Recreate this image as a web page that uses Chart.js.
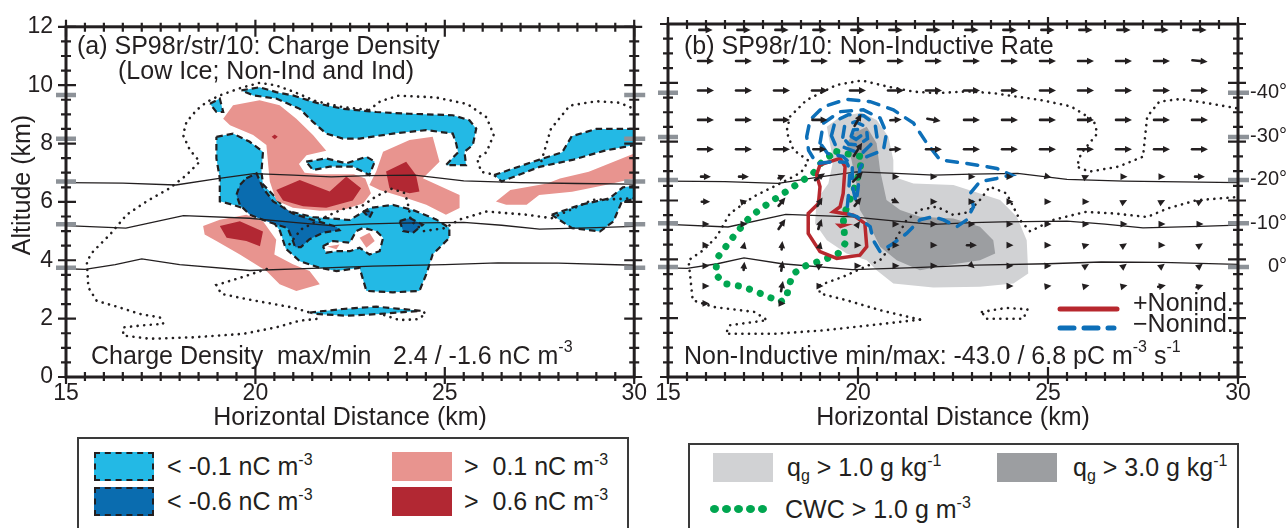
<!DOCTYPE html>
<html>
<head>
<meta charset="utf-8">
<title>SP98 charge density and non-inductive rate</title>
<script src="https://cdn.jsdelivr.net/npm/chart.js@4.4.1/dist/chart.umd.min.js"></script>
<style>
  html, body { margin: 0; padding: 0; background: #fff; }
  body { width: 1288px; height: 528px; position: relative; overflow: hidden;
         font-family: 'Liberation Sans', Arial, Helvetica, sans-serif; color: #231f20; }
  canvas { position: absolute; top: 0; }
  #chartA { left: 0; }
  #chartB { left: 644px; }
  .key { position: absolute; border: 2px solid #3a3a3a; height: 140px; box-sizing: border-box; }
  .sw { position: absolute; box-sizing: border-box; width: 60px; height: 29px; }
  .dash { border: 2px dashed #231f20; }
  .lbl { position: absolute; font-size: 25px; line-height: 30px; white-space: nowrap; }
  .lbl sup { font-size: 16px; vertical-align: 0; position: relative; top: -10px; }
  .lbl sub { font-size: 16px; vertical-align: 0; position: relative; top: 5px; }
  .dots { position: absolute; display: flex; gap: 3px; }
  .dots span { width: 9px; height: 8px; border-radius: 50%; background: #00a650; }
</style>
</head>
<body>
<canvas id="chartA" width="650" height="430"></canvas>
<canvas id="chartB" width="644" height="430"></canvas>

<div class="key" style="left:77px;top:437px;width:552px"></div>
<div class="sw dash" style="left:94px;top:452px;background:#23b9e5"></div>
<div class="lbl" style="left:167px;top:451px">&lt; -0.1 nC m<sup>-3</sup></div>
<div class="sw dash" style="left:94px;top:487px;background:#0a6caf"></div>
<div class="lbl" style="left:167px;top:486px">&lt; -0.6 nC m<sup>-3</sup></div>
<div class="sw" style="left:392px;top:452px;background:#e8948f"></div>
<div class="lbl" style="left:464px;top:451px">&gt;&nbsp; 0.1 nC m<sup>-3</sup></div>
<div class="sw" style="left:392px;top:487px;background:#b22833"></div>
<div class="lbl" style="left:464px;top:486px">&gt;&nbsp; 0.6 nC m<sup>-3</sup></div>

<div class="key" style="left:688px;top:443px;width:551px"></div>
<div class="sw" style="left:713px;top:453px;background:#d1d2d4"></div>
<div class="lbl" style="left:787px;top:452px">q<sub>g</sub> &gt; 1.0 g kg<sup>-1</sup></div>
<div class="sw" style="left:997px;top:453px;background:#9c9ea1"></div>
<div class="lbl" style="left:1073px;top:452px">q<sub>g</sub> &gt; 3.0 g kg<sup>-1</sup></div>
<div class="dots" style="left:710px;top:505px"><span></span><span></span><span></span><span></span><span></span></div>
<div class="lbl" style="left:785px;top:494px">CWC &gt; 1.0 g m<sup>-3</sup></div>

<script>
const ink = '#231f20';
const fontFam = "'Liberation Sans', Arial, Helvetica, sans-serif";

// isotherms (km), same in both panels
const iso20 = [[15,6.66],[16.5,6.64],[17.9,6.58],[19.0,6.8],[19.96,6.97],[21,6.92],[22.0,6.86],[23,6.9],[24.2,6.92],[25.5,6.72],[27,6.66],[28.5,6.63],[30,6.61]];
const iso10 = [[15,5.19],[16.58,5.1],[18.1,5.53],[19.85,5.44],[21,5.3],[22.0,5.19],[23,5.25],[23.8,5.27],[25.5,5.3],[26.5,5.2],[27.5,5.07],[29,5.12],[30,5.16]];
const iso0 = [[15,3.71],[15.5,3.69],[16.3,3.85],[17.0,4.05],[18.0,3.85],[19.85,3.65],[21.5,3.72],[23.1,3.8],[25,3.85],[26.4,3.91],[28,3.9],[30,3.83]];
const tempLevels = [9.66, 8.16, 6.70, 5.23, 3.74];
const tempLabels = ['-40°', '-30°', '-20°', '-10°', '0°'];

// (a) charge density, nC m-3
const negWeak = [
  [[19.63,9.82],[20.11,9.93],[20.55,9.76],[20.99,9.65],[21.7,9.36],[22.31,9.19],[23.19,9.08],[24.07,9.02],[25.21,8.97],[25.65,8.8],[25.83,8.51],[25.74,7.95],[25.52,7.72],[25.56,7.26],[25.03,7.26],[25.35,7.7],[25.3,8.0],[25.21,8.34],[24.51,8.46],[23.63,8.34],[22.75,8.17],[22.31,8.17],[21.87,8.34],[21.52,8.74],[21.17,9.19],[20.55,9.54],[19.94,9.65]],
  [[18.8,9.36],[19.06,9.54],[19.15,9.08],[18.97,9.08]],
  [[18.97,8.23],[19.41,8.34],[19.85,8.06],[20.2,7.72],[20.16,7.04],[20.2,6.6],[20.47,6.24],[20.82,5.7],[21.52,5.48],[22.49,5.38],[23.01,5.79],[23.63,5.9],[24.16,5.72],[24.77,5.4],[25.12,5.11],[25.12,4.77],[24.68,4.2],[24.51,3.52],[24.33,2.95],[23.63,2.9],[22.93,2.95],[22.75,3.74],[22.14,3.63],[21.7,3.74],[21.17,3.97],[20.8,4.4],[20.65,5.0],[20.4,5.45],[19.94,5.68],[19.41,5.9],[19.06,6.02],[19.06,6.81],[18.97,7.49]],
  [[21.34,7.38],[21.87,7.49],[22.4,7.32],[22.93,7.55],[23.15,7.38],[23.01,6.92],[22.57,7.21],[21.96,7.21],[21.52,7.09]],
  [[26.3,6.92],[27.5,7.45],[28.1,7.7],[28.35,8.25],[29.0,8.5],[30,8.5],[30,7.95],[29.2,7.75],[28.4,7.45],[27.5,7.2],[26.5,6.7]],
  [[27.82,5.56],[28.58,5.9],[29.35,6.12],[29.7,6.5],[30,6.55],[30,6.1],[29.67,6.0],[29.45,5.33],[29.1,4.99],[28.36,5.1]],
  [[21.43,2.21],[22.31,2.33],[23.19,2.41],[24.37,2.27],[23.28,2.16],[22.4,2.1],[21.61,2.16]]
];
const negHole = [
  [[21.78,4.48],[22.05,4.66],[22.49,4.6],[22.66,5.0],[22.84,5.11],[23.19,5.0],[23.37,4.77],[23.28,4.31],[23.01,4.2],[22.75,4.43],[22.49,4.31],[22.14,4.31],[21.87,4.26]]
];
const negStrong = [
  [[19.76,6.81],[20.03,6.98],[20.2,6.47],[20.47,6.02],[20.99,5.6],[21.52,5.38],[22.14,5.15],[22.22,5.03],[21.8,4.95],[21.43,4.72],[21.2,4.45],[21.05,4.45],[20.98,4.7],[20.85,5.1],[20.29,5.34],[19.85,5.56],[19.59,5.9],[19.5,6.24],[19.59,6.58]],
  [[23.81,5.34],[24.07,5.45],[24.42,5.22],[24.16,4.94],[23.9,5.0]],
  [[22.84,5.68],[23.1,5.68],[23.01,5.45]]
];
const posWeak = [
  [[19.15,8.85],[19.41,9.31],[20.11,9.48],[20.64,9.31],[21.08,8.85],[21.52,8.29],[21.87,7.75],[21.35,7.6],[21.15,7.3],[21.3,7.0],[21.7,6.95],[22.31,6.95],[22.6,6.95],[22.9,6.8],[23.05,6.3],[22.85,5.95],[22.31,5.72],[21.7,5.7],[20.99,5.8],[20.55,6.05],[20.38,6.7],[20.33,7.38],[20.29,7.95],[19.94,8.29],[19.33,8.63]],
  [[23.37,7.72],[24.07,8.12],[24.68,8.23],[24.86,7.38],[24.42,6.81],[25.39,6.24],[25.39,5.79],[25.03,5.56],[24.51,5.9],[23.98,6.13],[23.28,6.41],[23.01,6.58],[23.19,7.04]],
  [[18.62,5.17],[19.06,5.39],[19.76,5.56],[20.2,5.34],[20.55,4.7],[20.5,4.2],[20.99,3.86],[21.43,3.63],[21.7,3.18],[21.08,2.95],[20.64,3.18],[20.29,3.63],[19.59,4.2],[18.97,4.66],[18.66,4.88]],
  [[26.35,6.01],[26.73,6.41],[27.7,6.63],[28.04,6.8],[28.8,7.03],[30,7.66],[30,6.8],[29.24,6.58],[28.36,6.35],[27.49,6.24],[27.16,5.9],[26.62,5.9]],
  [[22.75,4.77],[23.01,4.94],[23.15,4.66],[22.93,4.43]],
  [[21.9,4.47],[22.22,4.54],[22.14,4.38]]
];
const posStrong = [
  [[20.55,6.41],[21.17,6.75],[21.96,6.36],[22.4,6.87],[22.79,6.47],[22.57,6.05],[21.87,5.8],[21.26,5.85],[20.73,6.05]],
  [[23.45,7.04],[23.98,7.38],[24.24,6.92],[24.33,6.36],[24.07,6.3],[23.54,6.47]],
  [[19.06,5.17],[19.59,5.34],[20.2,4.99],[20.12,4.48],[19.76,4.66],[19.24,4.77]],
  [[20.43,8.23],[20.51,8.31],[20.59,8.23],[20.51,8.15]]
];
const cloudA = [
  [[21.61,1.99],[21.17,1.93],[20.55,1.7],[19.68,1.48],[18.36,1.36],[17.22,1.31],[16.51,1.42],[16.51,1.7],[17.1,1.78],[17.57,1.82],[17.48,2.04],[16.95,2.16],[16.42,2.38],[15.81,2.61],[15.59,3.07],[15.55,3.97],[15.72,4.31],[16.16,4.88],[16.6,5.56],[17.13,6.02],[17.74,6.47],[18.18,6.92],[18.53,7.38],[18.27,7.78],[18.09,8.29],[18.18,8.74],[18.45,9.15],[18.71,9.42],[19.06,9.65],[19.6,9.9],[20.11,10.08],[20.55,9.99],[21.0,9.78],[21.6,9.45],[22.3,9.25],[23.0,9.15]],
  [[23.0,9.15],[23.3,9.45],[23.78,9.64],[24.76,9.58],[25.6,9.35],[26.1,8.9],[26.29,8.3],[26.1,7.7],[25.85,7.49],[25.96,7.03],[26.35,6.92]],
  [[27.55,7.4],[27.8,8.5],[28.3,9.3],[29.0,9.45],[29.6,9.4],[30,9.19]],
  [[20.9,4.55],[21.2,5.05],[21.7,5.4],[22.3,5.75],[22.8,5.85],[23.2,6.2],[23.6,6.45],[23.95,6.3],[24.05,5.8],[24.1,5.35],[24.45,5.0],[25.0,5.1],[25.4,5.4],[26.1,5.67],[27.16,5.56],[27.82,5.44],[28.9,6.07],[30,6.12]],
  [[20.3,3.7],[19.6,3.4],[18.97,3.15],[19.1,2.85],[19.76,2.67],[20.99,2.38],[21.43,2.21]],
  [[23.4,2.12],[23.8,1.95],[24.3,1.98],[24.5,2.18],[24.37,2.27]]
];

// (b) non-inductive rate, graupel, cloud water
const graupelWeak = [[20.1,8.99],[20.49,8.74],[20.8,8.17],[20.93,7.38],[20.93,6.81],[21.46,6.58],[22.51,6.53],[23.21,6.24],[23.74,6.02],[24.18,5.45],[24.44,4.65],[24.48,3.52],[24.09,3.18],[23.21,3.07],[21.98,3.04],[20.93,3.18],[20.49,3.63],[20.23,3.97],[19.7,4.2],[19.18,4.65],[18.87,5.22],[18.91,6.02],[19.22,6.58],[19.35,7.38],[19.26,7.95],[19.18,8.51],[19.53,8.85]];
const graupelStrong = [[19.88,8.29],[20.23,8.51],[20.49,7.95],[20.58,7.04],[20.75,6.02],[21.11,5.68],[21.63,5.45],[22.51,5.39],[23.21,5.11],[23.56,4.65],[23.61,4.2],[23.21,3.97],[22.33,3.8],[21.63,3.63],[21.02,3.97],[20.58,4.43],[20.32,5.11],[20.05,5.68],[19.97,6.47],[19.83,7.38],[19.7,7.95]];
const cloudWater = [[19.44,7.66],[20.1,7.49],[20.05,7.04],[19.92,6.47],[19.75,5.9],[19.61,5.45],[19.66,4.54],[19.48,4.2],[19.09,3.97],[18.65,3.8],[18.3,3.52],[18.17,3.07],[18.12,2.67],[17.95,2.55],[17.55,2.78],[16.98,3.07],[16.46,3.18],[16.24,3.52],[16.32,4.09],[16.72,4.77],[17.16,5.45],[17.64,5.9],[18.3,6.47],[18.82,6.92],[19.09,7.38]];
const nonindPos = [[19.0,7.21],[19.53,7.43],[19.66,7.15],[19.61,6.24],[19.53,5.79],[19.35,5.62],[19.88,5.5],[20.18,5.22],[20.23,4.43],[20.05,4.14],[19.44,4.03],[19.0,4.26],[18.69,4.88],[18.69,5.56],[18.96,5.9],[19.0,6.47],[18.91,6.87]];
const nonindPosCore = [[19.39,5.22],[19.88,5.2],[19.53,5.05]];
const nonindNeg = [
  [[18.65,8.17],[18.74,8.74],[19.09,9.19],[19.7,9.44],[20.32,9.36],[20.93,9.08],[21.46,8.63],[21.81,7.95],[22.16,7.38],[22.86,7.26],[23.65,7.09],[24.04,6.87],[23.65,6.75],[23.21,6.64],[22.95,6.24],[23.04,5.79],[22.86,5.34],[22.6,5.11],[22.25,5.34],[21.98,5.45],[21.63,5.34],[21.28,4.88],[20.93,4.54],[20.58,4.26],[20.4,4.65],[20.32,5.11],[19.97,5.45],[19.7,5.56],[19.75,6.2],[19.79,7.04],[19.7,7.3],[19.35,7.32],[18.91,7.26],[18.7,7.7]],
  [[19.0,7.95],[19.09,8.63],[19.53,9.02],[20.14,9.08],[20.58,8.8],[20.75,8.29],[20.67,7.72],[20.23,7.49],[20.05,7.1],[20.0,6.4],[19.95,5.95],[19.85,6.5],[19.85,7.2],[19.6,7.5],[19.2,7.6]],
  [[19.3,8.2],[19.4,8.7],[19.75,8.92],[20.15,8.88],[20.45,8.6],[20.5,8.15],[20.3,7.85],[20.1,7.6],[19.95,7.65],[19.65,7.8],[19.4,7.9]],
  [[19.6,8.15],[19.65,8.55],[19.93,8.68],[20.22,8.5],[20.25,8.1],[20.0,7.88],[19.75,7.92]],
  [[19.82,8.18],[19.88,8.4],[20.04,8.42],[20.1,8.22],[19.95,8.08]]
];
const cloudB = [
  [[21.63,1.95],[20.33,1.76],[19.13,1.59],[17.83,1.47],[16.52,1.47],[16.63,1.76],[17.61,1.93],[17.28,2.21],[16.2,2.38],[15.65,2.61],[15.54,3.97],[15.93,4.31],[16.28,4.77],[16.63,5.56],[17.25,6.13],[17.95,6.58],[18.5,6.95],[18.7,7.35],[18.3,7.72],[18.12,8.34],[18.21,8.85],[18.65,9.42],[19.44,9.93],[20.1,10.08],[20.75,9.88],[21.46,9.7],[22.07,9.65],[22.86,9.71],[23.56,9.65],[24.18,9.53],[24.79,9.42],[25.6,9.2],[26.2,8.73],[26.3,8.28],[25.87,7.6],[25.76,7.15],[26.09,6.98],[26.85,7.15],[27.5,7.49],[27.61,8.85],[27.93,9.36],[28.48,9.45],[29.24,9.3],[30,9.13]],
  [[21.63,1.95],[20.58,2.27],[19.7,2.61],[18.99,2.84],[18.99,3.12],[19.61,3.41],[20.58,3.97],[20.93,4.54],[21.28,5.34],[21.63,5.68],[22.07,5.79],[22.51,5.51],[22.9,5.6],[23.21,6.02],[23.47,6.47],[23.91,6.24],[24.26,5.34],[24.53,4.95],[25.11,5.33],[25.98,5.61],[26.74,5.56],[27.61,5.44],[28.15,5.73],[28.91,6.01],[30,6.12]],
  [[23.26,2.21],[23.9,2.35],[24.46,2.3],[24.35,1.98],[23.37,1.98],[23.26,2.21]]
];

// wind vectors drawn in km of plot length (u right, w up)
const windX = [16,17,18,19,20,21,22,23,24,25,26,27,28,29];
const windY = [11.8,10.74,9.74,8.74,7.74,6.81,5.96,5.2,4.48,3.78,3.09,2.5];
const windU = [
  [0.35,0.35,0.35,0.35,0.35,0.35,0.35,0.35,0.35,0.35,0.35,0.35,0.35,0.35],
  [0.42,0.42,0.42,0.42,0.42,0.42,0.42,0.42,0.42,0.42,0.42,0.42,0.42,0.4],
  [0.42,0.42,0.42,0.42,0.42,0.42,0.42,0.42,0.42,0.42,0.42,0.42,0.42,0.42],
  [0.42,0.42,0.42,0.4,0.18,0.3,0.35,0.42,0.42,0.42,0.42,0.42,0.42,0.42],
  [0.42,0.42,0.42,0.35,0.22,0.3,0.42,0.42,0.42,0.42,0.42,0.42,0.42,0.42],
  [0.26,0.26,0.18,0.26,0.26,0.06,0.06,0.06,0.08,0.1,0.1,0.1,0.06,0.26],
  [0.22,0.15,0.18,0.13,0.18,0.18,0.05,0.05,0.05,0.05,0.05,0.12,0.12,0.12],
  [0.05,0.05,0.18,0.09,0.09,0.05,0.06,0.05,0.05,0.05,0.05,0.06,0.06,0.06],
  [0.05,0.04,0.02,0.04,0.05,0.05,0.05,0.26,0.18,0.05,0.08,0.12,0.06,0.12],
  [0.05,0.02,0.04,0.08,0.05,0.05,0.05,0.13,0.1,0.1,0.12,0.12,0.12,0.12],
  [0.05,0,0.05,0.08,0,0,0,0,0.05,0.18,0.18,0.18,0.2,0.18],
  [0.05,0,0.05,0,0,0,0,0,0,0,0,0,0,0]
];
const windW = [
  [0,0,0,0,0,0,0,0,0,0,0,0,0,0],
  [0,0,0,0,0,0,0,0,0,0,0,0,0,-0.05],
  [0,0,0,0,0,0,0,0,0,0,0,0,0,0],
  [0,0,0,0,0.4,0.02,-0.08,0,0,0,0,0,0,0],
  [0,0,0,0,0.45,0.02,0,0,0,0,0,0,0,0],
  [0,0,0.1,0.23,0.34,0,0,0,0,-0.03,0.06,0,0,0],
  [0,0.05,0.28,0.28,0.28,-0.11,0,0,0,0,0,0.08,0.08,0.08],
  [0,0,0.34,0.34,0.17,0,0,0,0,0,0,0,0,0],
  [0,0.23,0.28,0.23,0,0,0,0,0,0,0.03,0.1,0,0.1],
  [0,0.28,0.34,0.06,0,0,0,-0.15,0,0,0.1,0.12,0.12,0.12],
  [0,0,0.35,0,0,0,0,0,0,0.03,0.05,0.05,0.05,0.08],
  [0,0,0,0,0,0,0,0,0,0,0,0,0,0]
];

Chart.defaults.font.family = fontFam;
Chart.defaults.color = ink;

const pts = arr => arr.map(p => ({x: p[0], y: p[1]}));
const ring = arr => pts(arr.concat([arr[0]]));

function region(poly, color, edged, order) {
  return {
    data: ring(poly), showLine: true, fill: 'shape', backgroundColor: color,
    borderColor: edged ? ink : 'rgba(0,0,0,0)', borderWidth: edged ? 2.2 : 1,
    borderDash: edged ? [6.5, 4] : [], pointRadius: 0, order
  };
}
function trace(data, o, order) {
  return {
    data, showLine: true, fill: false, borderColor: o.color, borderWidth: o.width,
    borderDash: o.dash || [], borderCapStyle: o.cap || 'butt', pointRadius: 0, order
  };
}
const dotted = {color: ink, width: 2.6, dash: [0.1, 6.5], cap: 'round'};
const isoStyle = {color: ink, width: 1.3};

function supText(ctx, parts, x, y) {
  parts.forEach(([t, k]) => {
    ctx.font = (k ? '16px ' : '25px ') + fontFam;
    ctx.fillText(t, x, y + (k === 1 ? -9 : k === -1 ? 6 : 0));
    x += ctx.measureText(t).width;
  });
}

// frame with crossing ticks plus the grey isotherm marks on both sides
const axisFrame = {
  id: 'axisFrame',
  afterDraw(chart) {
    const {ctx, chartArea: a} = chart;
    const xs = chart.scales.x, ys = chart.scales.y;
    ctx.save();
    ctx.strokeStyle = '#8d9298';
    ctx.lineWidth = 4.5;
    tempLevels.forEach(v => {
      const py = ys.getPixelForValue(v);
      ctx.beginPath();
      ctx.moveTo(a.left - 10, py); ctx.lineTo(a.left + 10, py);
      ctx.moveTo(a.right - 10, py); ctx.lineTo(a.right + 11, py);
      ctx.stroke();
    });
    ctx.strokeStyle = ink;
    ctx.lineWidth = 2.2;
    ctx.beginPath();
    for (let v = 15; v <= 30; v += 0.5) {
      const px = xs.getPixelForValue(v);
      const major = v % 5 === 0;
      const out = major ? 7 : 4, inn = major ? 10 : 5;
      ctx.moveTo(px, a.top - out); ctx.lineTo(px, a.top + inn);
      ctx.moveTo(px, a.bottom - inn); ctx.lineTo(px, a.bottom + out);
    }
    for (let v = 0; v <= 12; v += 0.5) {
      const py = ys.getPixelForValue(v);
      const major = v % 2 === 0;
      const out = major ? 8 : 5, inn = major ? 10 : 5;
      ctx.moveTo(a.left - out, py); ctx.lineTo(a.left + inn, py);
      ctx.moveTo(a.right - inn, py); ctx.lineTo(a.right + out, py);
    }
    ctx.stroke();
    ctx.lineWidth = 3;
    ctx.strokeRect(a.left, a.top, a.right - a.left, a.bottom - a.top);
    ctx.restore();
  }
};

function baseScales(showYLabels) {
  return {
    x: {
      type: 'linear', position: 'bottom', min: 15, max: 30,
      afterFit: s => { s.height = 53; },
      grid: {display: false, drawTicks: false}, border: {display: false},
      ticks: {stepSize: 5, padding: 3, maxRotation: 0, font: {size: 23}, color: ink}
    },
    y: {
      type: 'linear', position: 'left', min: 0, max: 12,
      afterFit: s => { s.width = showYLabels ? 66 : 24; },
      grid: {display: false, drawTicks: false}, border: {display: false},
      ticks: {display: showYLabels, stepSize: 2, padding: 13, font: {size: 23}, color: ink}
    }
  };
}

// ---- panel (a)
const dsA = [];
negWeak.forEach(p => dsA.push(region(p, '#23b9e5', true, 30)));
negHole.forEach(p => dsA.push(region(p, '#ffffff', true, 29)));
posWeak.forEach(p => dsA.push(region(p, '#e8948f', false, 28)));
negStrong.forEach(p => dsA.push(region(p, '#0a6caf', true, 27)));
posStrong.forEach(p => dsA.push(region(p, '#b22833', false, 26)));
[iso20, iso10, iso0].forEach(l => dsA.push(trace(pts(l), isoStyle, 5)));
cloudA.forEach(l => dsA.push(trace(pts(l), dotted, 4)));

const textA = {
  id: 'textA',
  afterDraw(chart) {
    const {ctx, chartArea: a} = chart;
    ctx.save();
    ctx.fillStyle = ink;
    ctx.textBaseline = 'middle';
    ctx.textAlign = 'left';
    ctx.font = '25px ' + fontFam;
    ctx.fillText('(a) SP98r/str/10: Charge Density', 77, 47);
    ctx.fillText('(Low Ice; Non-Ind and Ind)', 118, 72);
    ctx.fillText('Charge Density', 91, 357);
    ctx.fillText('max/min', 277, 357);
    supText(ctx, [['2.4 / -1.6 nC m', 0], ['-3', 1]], 393, 357);
    ctx.font = '25px ' + fontFam;
    ctx.textAlign = 'center';
    ctx.fillText('Horizontal Distance (km)', (a.left + a.right) / 2, 418);
    ctx.translate(23, 185);
    ctx.rotate(-Math.PI / 2);
    ctx.fillText('Altitude (km)', 0, 0);
    ctx.restore();
  }
};

new Chart(document.getElementById('chartA'), {
  type: 'scatter',
  data: {datasets: dsA},
  options: {
    responsive: false, animation: false, events: [], devicePixelRatio: 1,
    layout: {padding: {left: 0, right: 15, top: 24, bottom: 0}},
    plugins: {legend: {display: false}, tooltip: {enabled: false}},
    elements: {point: {radius: 0}},
    scales: baseScales(true)
  },
  plugins: [axisFrame, textA]
});

// ---- panel (b)
const dsB = [];
dsB.push(region(graupelWeak, '#d1d2d4', false, 30));
dsB.push(region(graupelStrong, '#9c9ea1', false, 29));
cloudB.forEach(l => dsB.push(trace(pts(l), dotted, 10)));
[iso20, iso10, iso0].forEach(l => dsB.push(trace(pts(l), isoStyle, 9)));
dsB.push(trace(ring(cloudWater), {color: '#00a650', width: 7, dash: [0.1, 11.5], cap: 'round'}, 3));
dsB.push(trace(ring(nonindPos), {color: '#b7282e', width: 3.5}, 2));
dsB.push(region(nonindPosCore, '#b7282e', false, 2));
nonindNeg.forEach(l => dsB.push(trace(ring(l), {color: '#0d6fb8', width: 3.5, dash: [11, 9.5], cap: 'round'}, 1)));

const windArrows = {
  id: 'windArrows',
  afterDatasetsDraw(chart) {
    const {ctx} = chart;
    const xs = chart.scales.x, ys = chart.scales.y;
    ctx.save();
    ctx.strokeStyle = ink;
    ctx.fillStyle = ink;
    ctx.lineWidth = 2.6;
    ctx.lineCap = 'round';
    windY.forEach((yv, r) => windX.forEach((xv, c) => {
      const u = windU[r][c], w = windW[r][c];
      if (!u && !w) return;
      let x0 = xs.getPixelForValue(xv - u / 2), y0 = ys.getPixelForValue(yv - w / 2);
      let x1 = xs.getPixelForValue(xv + u / 2), y1 = ys.getPixelForValue(yv + w / 2);
      const len = Math.hypot(x1 - x0, y1 - y0);
      const ux = (x1 - x0) / len, uy = (y1 - y0) / len;
      const head = 7;
      if (len < head) {
        const cx = (x0 + x1) / 2, cy = (y0 + y1) / 2;
        x1 = cx + ux * 3.5; y1 = cy + uy * 3.5;
      } else {
        ctx.beginPath();
        ctx.moveTo(x0, y0);
        ctx.lineTo(x1 - ux * head * 0.7, y1 - uy * head * 0.7);
        ctx.stroke();
      }
      ctx.beginPath();
      ctx.moveTo(x1, y1);
      ctx.lineTo(x1 - ux * head - uy * 3.4, y1 - uy * head + ux * 3.4);
      ctx.lineTo(x1 - ux * head + uy * 3.4, y1 - uy * head - ux * 3.4);
      ctx.closePath();
      ctx.fill();
    }));
    ctx.restore();
  }
};

const textB = {
  id: 'textB',
  afterDraw(chart) {
    const {ctx, chartArea: a} = chart;
    ctx.save();
    ctx.fillStyle = ink;
    ctx.textBaseline = 'middle';
    ctx.textAlign = 'left';
    ctx.font = '25px ' + fontFam;
    ctx.fillText('(b) SP98r/10: Non-Inductive Rate', 40, 47);
    supText(ctx, [['Non-Inductive min/max: -43.0 / 6.8 pC m', 0], ['-3', 1], [' s', 0], ['-1', 1]], 40, 357);
    // contour key
    ctx.lineWidth = 5;
    ctx.lineCap = 'round';
    ctx.strokeStyle = '#b7282e';
    ctx.beginPath(); ctx.moveTo(416, 309); ctx.lineTo(473, 309); ctx.stroke();
    ctx.strokeStyle = '#0d6fb8';
    ctx.setLineDash([14, 10]);
    ctx.beginPath(); ctx.moveTo(416, 328); ctx.lineTo(470, 328); ctx.stroke();
    ctx.setLineDash([]);
    ctx.font = '25px ' + fontFam;
    ctx.fillText('+Nonind.', 489, 304);
    ctx.fillText('\u2212Nonind.', 489, 325);
    ctx.textAlign = 'center';
    ctx.fillText('Horizontal Distance (km)', (a.left + a.right) / 2, 418);
    ctx.restore();
  }
};

const scalesB = baseScales(false);
scalesB.y2 = {
  type: 'linear', position: 'right', min: 0, max: 12,
  afterFit: s => { s.width = 49; },
  afterBuildTicks: s => { s.ticks = tempLevels.map(v => ({value: v})); },
  grid: {display: false, drawTicks: false}, border: {display: false},
  ticks: {
    autoSkip: false, crossAlign: 'far', padding: 0, font: {size: 20}, color: ink,
    callback: v => tempLabels[tempLevels.indexOf(v)]
  }
};

new Chart(document.getElementById('chartB'), {
  type: 'scatter',
  data: {datasets: dsB},
  options: {
    responsive: false, animation: false, events: [], devicePixelRatio: 1,
    layout: {padding: {left: 0, right: 1, top: 24, bottom: 0}},
    plugins: {legend: {display: false}, tooltip: {enabled: false}},
    elements: {point: {radius: 0}},
    scales: scalesB
  },
  plugins: [windArrows, axisFrame, textB]
});
</script>
</body>
</html>
